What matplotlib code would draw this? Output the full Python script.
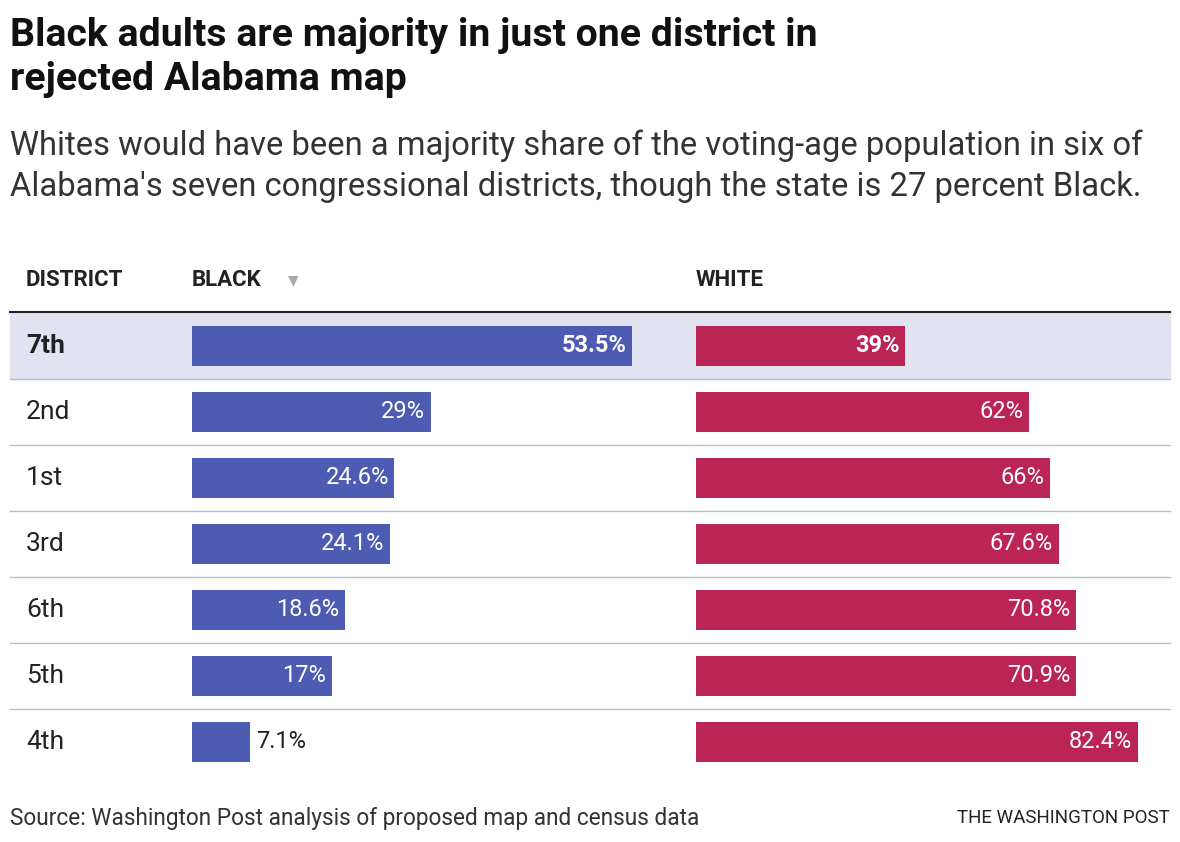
import matplotlib
matplotlib.use("Agg")
import matplotlib.pyplot as plt

districts = ["7th", "2nd", "1st", "3rd", "6th", "5th", "4th"]
black = [53.5, 29, 24.6, 24.1, 18.6, 17, 7.1]
white = [39, 62, 66, 67.6, 70.8, 70.9, 82.4]
black_labels = ["53.5%", "29%", "24.6%", "24.1%", "18.6%", "17%", "7.1%"]
white_labels = ["39%", "62%", "66%", "67.6%", "70.8%", "70.9%", "82.4%"]

BLUE = "#4e5bb2"
RED = "#bb2556"
HL = "#e1e3f0"
W, H = 1180, 842
plt.rcParams['font.family'] = ['Roboto', 'DejaVu Sans']

fig = plt.figure(figsize=(W / 100, H / 100), dpi=100)
base = fig.add_axes([0, 0, 1, 1])
base.set_xlim(0, W)
base.set_ylim(H, 0)
base.axis("off")

def fy(y):
    return 1 - y / H

top, pitch = 313, 66
n = len(districts)

# highlight row and separators
base.add_patch(plt.Rectangle((10, top), 1160, pitch, color=HL, zorder=0))
base.plot([10, 1170], [top - 1, top - 1], color="#222222", lw=1.5)
for i in range(1, n):
    base.plot([10, 1170], [top + pitch * i, top + pitch * i], color="#bdbdbd", lw=1)

base.text(10, 35, "Black adults are majority in just one district in",
          fontsize=28.3, fontweight="bold", va="center", color="#111111")
base.text(10, 79, "rejected Alabama map",
          fontsize=28.3, fontweight="bold", va="center", color="#111111")
base.text(10, 146, "Whites would have been a majority share of the voting-age population in six of",
          fontsize=23.6, va="center", color="#333333")
base.text(10, 187, "Alabama's seven congressional districts, though the state is 27 percent Black.",
          fontsize=23.6, va="center", color="#333333")
base.text(26, 280, "DISTRICT", fontsize=16, fontweight="bold", va="center", color="#222222")
base.text(192, 280, "BLACK", fontsize=16, fontweight="bold", va="center", color="#222222")
base.text(288, 280, "▼", fontsize=10, va="center", color="#aaaaaa")
base.text(696, 280, "WHITE", fontsize=16, fontweight="bold", va="center", color="#222222")
base.text(10, 818, "Source: Washington Post analysis of proposed map and census data",
          fontsize=16.3, va="center", color="#333333")
base.text(1170, 818, "THE WASHINGTON POST", fontsize=13.5, ha="right", va="center", color="#222222")

for i, d in enumerate(districts):
    base.text(26, top + pitch * i + 33, d, fontsize=19,
              fontweight="bold" if i == 0 else "normal", va="center", color="#222222")

def bar_axes(x0, x1, xmax):
    ax = fig.add_axes([x0 / W, fy(top + pitch * n), (x1 - x0) / W, pitch * n / H])
    ax.set_xlim(0, xmax)
    ax.set_ylim(n - 0.5, -0.5)
    ax.axis("off")
    ax.patch.set_alpha(0)
    return ax

axb = bar_axes(192, 672, 53.5 * 480 / 440)
axw = bar_axes(696, 1170, 82.4 * 474 / 442)

for ax, vals, labels, col in [(axb, black, black_labels, BLUE), (axw, white, white_labels, RED)]:
    ax.barh(range(n), vals, height=40 / 66, color=col)
    for i, (v, lab) in enumerate(zip(vals, labels)):
        bold = "bold" if i == 0 else "normal"
        if v < 10:
            ax.annotate(lab, (v, i), xytext=(4, 0), textcoords="offset points",
                        ha="left", va="center", fontsize=17, color="#222222", fontweight=bold)
        else:
            ax.annotate(lab, (v, i), xytext=(-4, 0), textcoords="offset points",
                        ha="right", va="center", fontsize=17, color="white", fontweight=bold)

fig.savefig("out.png", dpi=100)
